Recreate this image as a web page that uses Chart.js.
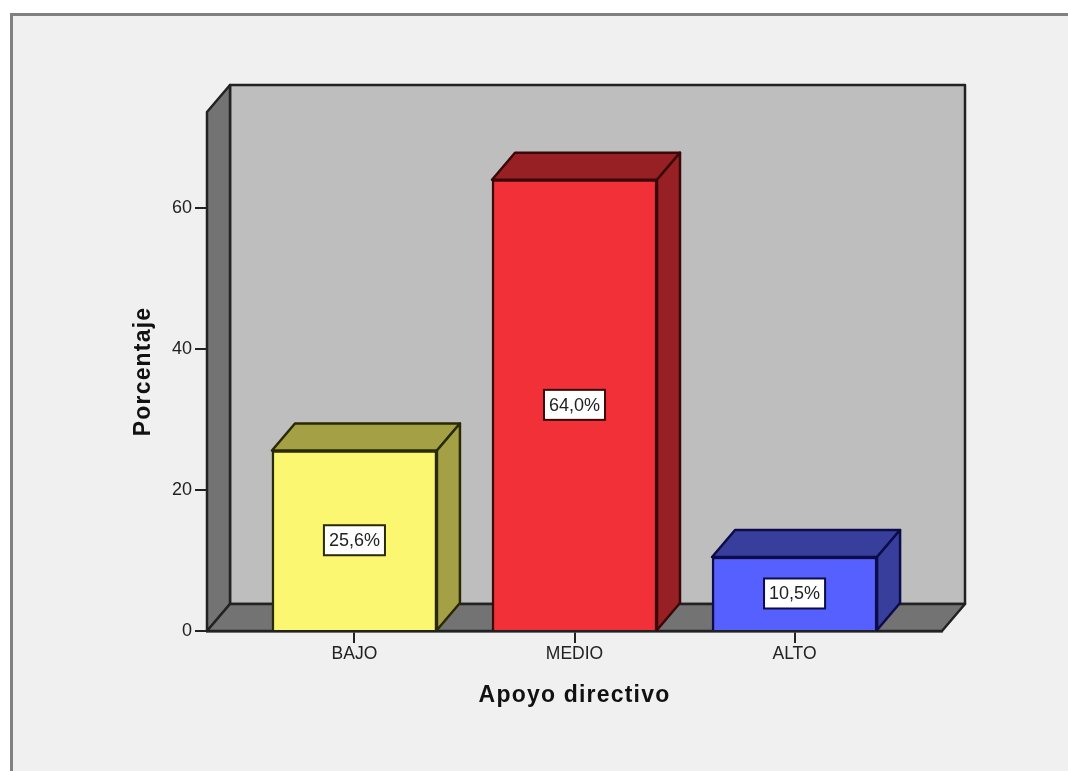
<!DOCTYPE html>
<html lang="es">

<head>
  <meta charset="UTF-8" />
  <title>Apoyo directivo</title>
  <script src="https://cdn.jsdelivr.net/npm/chart.js"></script>
  <style>
    body { margin: 0; background: #fff; }
    #panel {
      position: absolute; left: 10px; top: 13px; right: 0; bottom: 0;
      background: #f0f0f0; border-left: 3px solid #808080; border-top: 3px solid #808080;
    }
    #chart { position: absolute; left: 0; top: 0; }
  </style>
</head>

<body>
  <div id="panel"></div>
  <canvas id="chart" width="1068" height="771"></canvas>

  <script>
    const categories = ['BAJO', 'MEDIO', 'ALTO'];
    const percentages = [25.6, 64.0, 10.5];
    const positions = [0, 1, 2];

    const frontColors = ['#fbf770', '#f23038', '#5560ff'];
    const shadeColors = ['#a3a046', '#962024', '#383e9c'];
    const edgeColors = ['#2a2a00', '#3a0808', '#0c0c4a'];

    const DEPTH_X = 23;
    const DEPTH_Y = 27;
    const FONT = '"Liberation Sans", Arial, sans-serif';

    function polygon(ctx, pts, fill, stroke, width) {
      ctx.beginPath();
      pts.forEach((p, i) => i ? ctx.lineTo(p[0], p[1]) : ctx.moveTo(p[0], p[1]));
      ctx.closePath();
      ctx.fillStyle = fill;
      ctx.fill();
      ctx.lineJoin = 'round';
      ctx.lineWidth = width;
      ctx.strokeStyle = stroke;
      ctx.stroke();
    }

    const box3d = {
      id: 'box3d',
      // axis titles are set with wider tracking than the canvas default
      afterLayout(chart) {
        Object.values(chart.scales).forEach((scale) => {
          const drawTitle = scale.drawTitle;
          scale.drawTitle = function () {
            chart.ctx.save();
            chart.ctx.letterSpacing = '1.2px';
            drawTitle.call(scale);
            chart.ctx.restore();
          };
        });
      },
      // back wall, side wall and floor of the box, then the depth faces of each bar
      beforeDatasetsDraw(chart) {
        const { ctx, chartArea: a } = chart;
        ctx.save();
        polygon(ctx, [[a.left + DEPTH_X, a.top - DEPTH_Y], [a.right + DEPTH_X, a.top - DEPTH_Y],
          [a.right + DEPTH_X, a.bottom - DEPTH_Y], [a.left + DEPTH_X, a.bottom - DEPTH_Y]], '#bebebe', '#222', 2.5);
        polygon(ctx, [[a.left, a.top], [a.left + DEPTH_X, a.top - DEPTH_Y],
          [a.left + DEPTH_X, a.bottom - DEPTH_Y], [a.left, a.bottom]], '#737373', '#222', 2.5);
        polygon(ctx, [[a.left, a.bottom], [a.left + DEPTH_X, a.bottom - DEPTH_Y],
          [a.right + DEPTH_X, a.bottom - DEPTH_Y], [a.right, a.bottom]], '#737373', '#222', 2.5);

        chart.getDatasetMeta(0).data.forEach((bar, i) => {
          const half = bar.width / 2;
          const l = bar.x - half, r = bar.x + half;
          polygon(ctx, [[l, bar.y], [l + DEPTH_X, bar.y - DEPTH_Y], [r + DEPTH_X, bar.y - DEPTH_Y], [r, bar.y]],
            shadeColors[i], edgeColors[i], 2.5);
          polygon(ctx, [[r, bar.y], [r + DEPTH_X, bar.y - DEPTH_Y], [r + DEPTH_X, bar.base - DEPTH_Y], [r, bar.base]],
            shadeColors[i], edgeColors[i], 2.5);
        });
        ctx.restore();
      },
      // value boxes in the middle of each bar
      afterDatasetsDraw(chart) {
        const { ctx } = chart;
        ctx.save();
        ctx.font = '18px ' + FONT;
        ctx.textAlign = 'center';
        ctx.textBaseline = 'middle';
        chart.getDatasetMeta(0).data.forEach((bar, i) => {
          const text = percentages[i].toFixed(1).replace('.', ',') + '%';
          const w = ctx.measureText(text).width + 10;
          const h = 30;
          const cy = (bar.y + bar.base) / 2;
          ctx.fillStyle = '#fff';
          ctx.fillRect(bar.x - w / 2, cy - h / 2, w, h);
          ctx.lineWidth = 2;
          ctx.strokeStyle = edgeColors[i];
          ctx.strokeRect(bar.x - w / 2, cy - h / 2, w, h);
          ctx.fillStyle = '#222';
          ctx.fillText(text, bar.x, cy + 1);
        });
        ctx.restore();
      }
    };

    new Chart(document.getElementById('chart'), {
      type: 'bar',
      data: {
        datasets: [{
          data: positions.map((x, i) => ({ x: x, y: percentages[i] })),
          backgroundColor: frontColors,
          borderColor: edgeColors,
          borderWidth: 2.5,
          barThickness: 165
        }]
      },
      options: {
        responsive: false,
        animation: false,
        layout: { padding: { left: 100, right: 126, top: 112, bottom: 60 } },
        plugins: { legend: { display: false }, tooltip: { enabled: false } },
        scales: {
          x: {
            type: 'linear',
            offset: false,
            min: -0.67,
            max: 2.67,
            afterFit(scale) { scale.height = 80; },
            border: { color: '#222', width: 2.5 },
            grid: { offset: false, drawOnChartArea: false, color: '#222', lineWidth: 2, tickLength: 12 },
            ticks: {
              stepSize: 1,
              includeBounds: false,
              autoSkip: false,
              maxRotation: 0,
              padding: 1,
              color: '#222',
              font: { family: FONT, size: 17.5 },
              callback: (v) => categories[v]
            },
            title: {
              display: true,
              text: 'Apoyo directivo',
              color: '#111',
              font: { family: FONT, size: 23, weight: 'bold' },
              padding: { top: 0, bottom: 2 }
            }
          },
          y: {
            min: 0,
            max: 73.6,
            afterFit(scale) { scale.width = 107; },
            border: { color: '#222', width: 2.5 },
            grid: { drawOnChartArea: false, color: '#222', lineWidth: 2, tickLength: 12 },
            ticks: {
              stepSize: 20,
              includeBounds: false,
              padding: 3,
              color: '#222',
              font: { family: FONT, size: 18 }
            },
            title: {
              display: true,
              text: 'Porcentaje',
              color: '#111',
              font: { family: FONT, size: 23, weight: 'bold' },
              padding: { top: 30, bottom: 0 }
            }
          }
        }
      },
      plugins: [box3d]
    });
  </script>
</body>

</html>
